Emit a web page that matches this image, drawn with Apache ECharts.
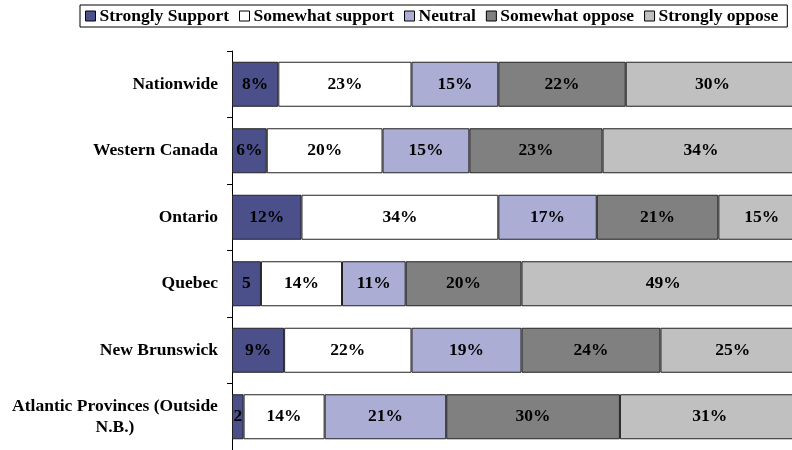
<!DOCTYPE html>
<html>
<head>
<meta charset="utf-8">
<script src="https://cdn.jsdelivr.net/npm/echarts@6/dist/echarts.min.js"></script>
<style>
html,body{margin:0;padding:0;background:#fff;}
#chart{width:792px;height:450px;}
</style>
</head>
<body>
<div id="chart"></div>
<script>
const categories = ["Nationwide", "Western Canada", "Ontario", "Quebec", "New Brunswick", "Atlantic Provinces (Outside\nN.B.)"];
const seriesNames = ["Strongly Support", "Somewhat support", "Neutral", "Somewhat oppose", "Strongly oppose"];
const stronglySupport = [8, 6, 12, 5, 9, 2];
const somewhatSupport = [23, 20, 34, 14, 22, 14];
const neutral = [15, 15, 17, 11, 19, 21];
const somewhatOppose = [22, 23, 21, 20, 24, 30];
const stronglyOppose = [30, 34, 15, 49, 25, 31];
const colors = ["#4b4f8a", "#ffffff", "#abadd4", "#808080", "#c0c0c0"];

const allValues = [stronglySupport, somewhatSupport, neutral, somewhatOppose, stronglyOppose];
const FONT = '"Liberation Serif", "Times New Roman", serif';
// the visible plot (560px) shows 96.72% of the full 0-100 scale; the rest is cropped off the right edge
const AXIS_MAX = 100 * 560 / 579;

const chart = echarts.init(document.getElementById('chart'), null, {renderer: 'canvas'});
const series = seriesNames.map((name, i) => ({
  name: name,
  type: 'bar',
  stack: 'total',
  data: allValues[i],
  barWidth: 45,
  clip: false,
  itemStyle: {color: colors[i], borderColor: '#222', borderWidth: 1},
  emphasis: {disabled: true},
  label: {
    show: true,
    position: 'inside',
    color: '#000',
    fontFamily: FONT,
    fontWeight: 'bold',
    fontSize: 17.5,
    formatter: p => (p.value <= 5 ? String(p.value) : p.value + '%')
  }
}));

chart.setOption({
  animation: false,
  legend: {
    data: seriesNames,
    left: 80,
    top: 5,
    padding: [2, 9, 2, 5],
    borderColor: '#000',
    borderWidth: 1,
    itemWidth: 10,
    itemHeight: 10,
    itemGap: 10,
    icon: 'rect',
    itemStyle: {borderColor: '#000', borderWidth: 1},
    textStyle: {fontFamily: FONT, fontWeight: 'bold', fontSize: 17.5, color: '#000', padding: [0, 0, 0, -1]}
  },
  grid: {left: 232, top: 51, right: 0, height: 405, containLabel: false},
  xAxis: {
    type: 'value',
    min: 0,
    max: AXIS_MAX,
    show: false
  },
  yAxis: {
    type: 'category',
    inverse: true,
    data: categories,
    axisLine: {show: true, lineStyle: {color: '#000', width: 1}},
    axisTick: {show: true, length: 5, lineStyle: {color: '#000'}},
    axisLabel: {
      margin: 14,
      color: '#000',
      fontFamily: FONT,
      fontWeight: 'bold',
      fontSize: 17.5,
      lineHeight: 21,
      formatter: v => v.indexOf('\n') >= 0
        ? v.split('\n').map(s => '{c|' + s + '}').join('\n')
        : v,
      rich: {
        c: {width: 206, align: 'center', fontFamily: FONT, fontWeight: 'bold', fontSize: 17.5, color: '#000', lineHeight: 21}
      }
    }
  },
  series: series
});
</script>
</body>
</html>
